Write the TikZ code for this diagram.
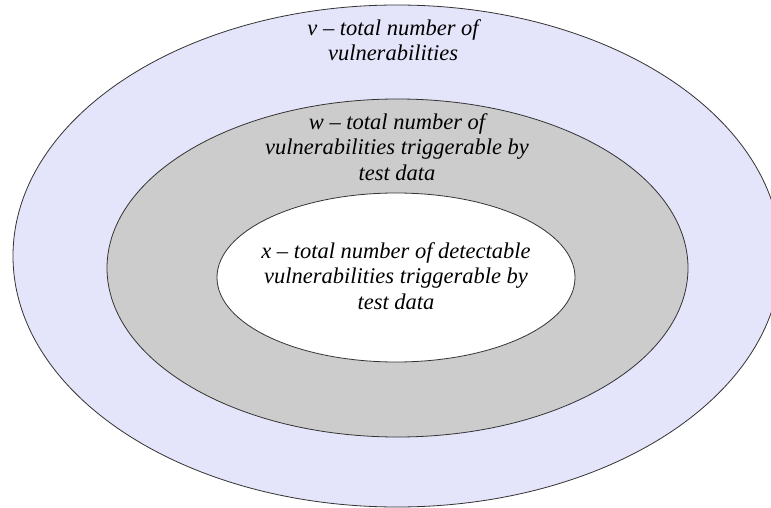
\documentclass[tikz,border=0pt]{standalone}
\usepackage{fontspec}
\setmainfont{Liberation Serif}
\begin{document}
\begin{tikzpicture}[x=1pt,y=-1pt,
  ring/.style={draw=black!80,line width=0.8pt},
  label/.style={align=center,font=\fontsize{22.5}{25.5}\selectfont\itshape,inner sep=0pt}]
\definecolor{lavender}{HTML}{E4E4FA}
\definecolor{midgray}{HTML}{CCCCCC}
\useasboundingbox (0,0) rectangle (771,508);
\fill[white] (0,0) rectangle (771,508);
% nested sets
\draw[ring,fill=lavender] (397,256) ellipse [x radius=384, y radius=251];
\draw[ring,fill=midgray] (397.5,268) ellipse [x radius=290.5, y radius=169];
\draw[ring,fill=white] (396,277.5) ellipse [x radius=179, y radius=84.5];
% set descriptions
\node[label] (v) at (393,40) {v -- total number of\\vulnerabilities};
\node[label] (w) at (397,147) {w -- total number of\\vulnerabilities triggerable by\\test data};
\node[label] (x) at (396,276) {x -- total number of detectable\\vulnerabilities triggerable by\\test data};
\end{tikzpicture}
\end{document}
